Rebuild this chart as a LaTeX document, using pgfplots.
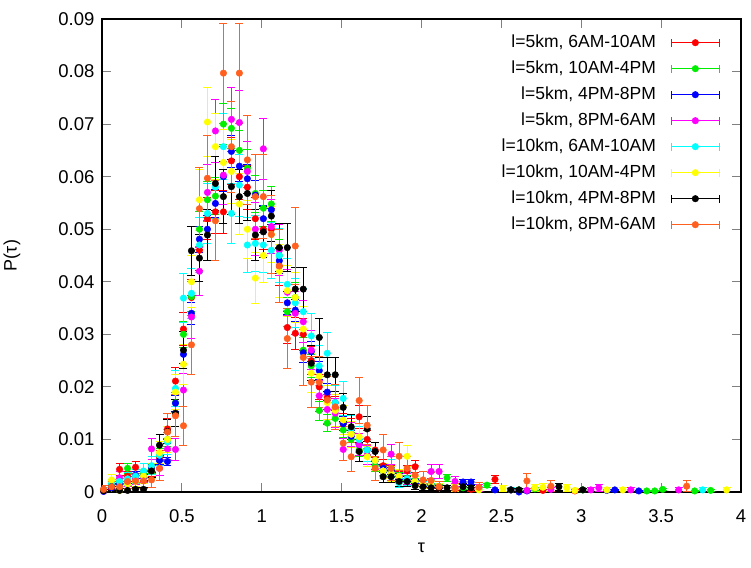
\documentclass[border=0pt]{standalone}
\usepackage{fontspec}
\setmainfont{Liberation Sans}
\usepackage{pgfplots}
\usepackage{pgfplotstable}
\pgfplotsset{compat=1.18}
\usetikzlibrary{calc,arrows.meta}

\definecolor{gpRed}{HTML}{FF0000}
\definecolor{gpGreen}{HTML}{00EE00}
\definecolor{gpBlue}{HTML}{0000FF}
\definecolor{gpMagenta}{HTML}{FF00FF}
\definecolor{gpCyan}{HTML}{00FFFF}
\definecolor{gpYellow}{HTML}{FFFF00}
\definecolor{gpBlack}{HTML}{000000}
\definecolor{gpOrange}{HTML}{FF5F1F}
\definecolor{tickGrey}{HTML}{808080}

% l=5km, 6AM-10AM
\pgfplotstableread{
x y e
0.01 0.0005 0.0004
0.06 0.0010 0.0006
0.11 0.0043 0.0012
0.16 0.0030 0.0010
0.21 0.0047 0.0012
0.26 0.0030 0.0010
0.31 0.0040 0.0011
0.36 0.0065 0.0015
0.41 0.0120 0.0020
0.46 0.0211 0.0026
0.51 0.0310 0.0032
0.56 0.0370 0.0035
0.61 0.0460 0.0039
0.66 0.0520 0.0041
0.71 0.0533 0.0042
0.76 0.0533 0.0042
0.81 0.0630 0.0045
0.86 0.0600 0.0044
0.91 0.0580 0.0043
0.96 0.0520 0.0041
1.01 0.0500 0.0040
1.06 0.0500 0.0040
1.11 0.0430 0.0037
1.16 0.0313 0.0032
1.21 0.0302 0.0031
1.26 0.0300 0.0031
1.31 0.0250 0.0028
1.36 0.0200 0.0025
1.41 0.0180 0.0024
1.46 0.0160 0.0023
1.51 0.0130 0.0021
1.56 0.0120 0.0020
1.61 0.0143 0.0022
1.66 0.0100 0.0018
1.71 0.0080 0.0016
1.76 0.0050 0.0013
1.81 0.0040 0.0011
1.86 0.0030 0.0010
1.91 0.0040 0.0011
1.96 0.0048 0.0012
2.01 0.0015 0.0007
2.06 0.0012 0.0006
2.11 0.0008 0.0005
2.21 0.0006 0.0004
2.31 0.0005 0.0004
2.46 0.0024 0.0009
2.56 0.0004 0.0004
2.76 0.0003 0.0003
2.96 0.0002 0.0003
}\tRed

% l=5km, 10AM-4PM
\pgfplotstableread{
x y e
0.01 0.0003 0.0003
0.06 0.0015 0.0006
0.11 0.0020 0.0007
0.16 0.0045 0.0010
0.21 0.0025 0.0008
0.26 0.0035 0.0009
0.31 0.0045 0.0010
0.36 0.0070 0.0013
0.41 0.0100 0.0015
0.46 0.0170 0.0020
0.51 0.0300 0.0026
0.56 0.0372 0.0029
0.61 0.0500 0.0034
0.66 0.0556 0.0035
0.71 0.0563 0.0036
0.76 0.0700 0.0040
0.81 0.0692 0.0039
0.86 0.0650 0.0038
0.91 0.0616 0.0037
0.96 0.0568 0.0036
1.01 0.0540 0.0035
1.06 0.0548 0.0035
1.11 0.0450 0.0032
1.16 0.0343 0.0028
1.21 0.0370 0.0029
1.26 0.0270 0.0025
1.31 0.0240 0.0023
1.36 0.0155 0.0019
1.41 0.0131 0.0017
1.46 0.0140 0.0018
1.51 0.0118 0.0016
1.56 0.0100 0.0015
1.61 0.0080 0.0013
1.66 0.0070 0.0013
1.71 0.0050 0.0011
1.76 0.0040 0.0009
1.81 0.0035 0.0009
1.86 0.0030 0.0008
1.91 0.0025 0.0008
1.96 0.0020 0.0007
2.01 0.0015 0.0006
2.06 0.0012 0.0005
2.11 0.0010 0.0005
2.16 0.0027 0.0008
2.26 0.0008 0.0004
2.41 0.0013 0.0005
2.61 0.0004 0.0003
2.71 0.0006 0.0004
3.01 0.0004 0.0003
3.41 0.0002 0.0002
3.46 0.0002 0.0002
3.51 0.0005 0.0003
3.71 0.0002 0.0002
3.81 0.0003 0.0003
}\tGreen

% l=5km, 4PM-8PM
\pgfplotstableread{
x y e
0.01 0.0001 0.0001
0.06 0.0008 0.0003
0.11 0.0015 0.0005
0.16 0.0020 0.0005
0.21 0.0032 0.0007
0.26 0.0028 0.0006
0.31 0.0045 0.0008
0.36 0.0060 0.0009
0.41 0.0058 0.0009
0.46 0.0169 0.0016
0.51 0.0262 0.0019
0.56 0.0340 0.0022
0.61 0.0481 0.0026
0.66 0.0500 0.0027
0.71 0.0549 0.0028
0.76 0.0600 0.0029
0.81 0.0648 0.0031
0.86 0.0620 0.0030
0.91 0.0596 0.0029
0.96 0.0565 0.0029
1.01 0.0520 0.0027
1.06 0.0537 0.0028
1.11 0.0440 0.0025
1.16 0.0360 0.0023
1.21 0.0346 0.0022
1.26 0.0265 0.0020
1.31 0.0267 0.0020
1.36 0.0231 0.0018
1.41 0.0190 0.0017
1.46 0.0170 0.0016
1.51 0.0130 0.0014
1.56 0.0106 0.0012
1.61 0.0090 0.0011
1.66 0.0080 0.0011
1.71 0.0060 0.0009
1.76 0.0045 0.0008
1.81 0.0040 0.0008
1.86 0.0030 0.0007
1.91 0.0025 0.0006
1.96 0.0020 0.0005
2.01 0.0015 0.0005
2.06 0.0012 0.0004
2.11 0.0010 0.0004
2.26 0.0019 0.0005
2.31 0.0019 0.0005
2.46 0.0004 0.0002
2.61 0.0000 0.0001
2.66 0.0002 0.0002
3.16 0.0003 0.0002
3.21 0.0004 0.0002
3.36 0.0002 0.0002
}\tBlue

% l=5km, 8PM-6AM
\pgfplotstableread{
x y e
0.01 0.0002 0.0003
0.06 0.0010 0.0007
0.11 0.0027 0.0012
0.16 0.0020 0.0010
0.21 0.0025 0.0012
0.26 0.0029 0.0012
0.31 0.0082 0.0021
0.36 0.0045 0.0015
0.41 0.0082 0.0021
0.46 0.0081 0.0021
0.51 0.0194 0.0032
0.56 0.0333 0.0042
0.61 0.0420 0.0047
0.66 0.0570 0.0055
0.71 0.0687 0.0060
0.76 0.0603 0.0056
0.81 0.0709 0.0061
0.86 0.0703 0.0061
0.91 0.0610 0.0057
0.96 0.0500 0.0051
1.01 0.0653 0.0059
1.06 0.0505 0.0052
1.11 0.0460 0.0049
1.16 0.0380 0.0045
1.21 0.0340 0.0042
1.26 0.0324 0.0041
1.31 0.0270 0.0038
1.36 0.0183 0.0031
1.41 0.0157 0.0029
1.46 0.0150 0.0028
1.51 0.0081 0.0021
1.56 0.0110 0.0024
1.61 0.0090 0.0022
1.66 0.0070 0.0019
1.71 0.0060 0.0018
1.76 0.0040 0.0015
1.81 0.0072 0.0020
1.86 0.0030 0.0013
1.91 0.0025 0.0012
1.96 0.0020 0.0010
2.01 0.0015 0.0009
2.06 0.0039 0.0014
2.11 0.0039 0.0014
2.21 0.0020 0.0010
2.36 0.0008 0.0007
2.56 0.0004 0.0005
2.66 0.0003 0.0004
2.81 0.0005 0.0005
3.06 0.0004 0.0005
3.11 0.0008 0.0007
3.31 0.0004 0.0005
3.61 0.0004 0.0005
}\tMagenta

% l=10km, 6AM-10AM
\pgfplotstableread{
x y e
0.01 0.0004 0.0005
0.06 0.0015 0.0010
0.11 0.0020 0.0011
0.16 0.0025 0.0013
0.21 0.0030 0.0014
0.26 0.0040 0.0016
0.31 0.0050 0.0018
0.36 0.0070 0.0021
0.41 0.0095 0.0024
0.46 0.0197 0.0035
0.51 0.0369 0.0048
0.56 0.0378 0.0049
0.61 0.0470 0.0054
0.66 0.0530 0.0058
0.71 0.0580 0.0060
0.76 0.0657 0.0064
0.81 0.0530 0.0058
0.86 0.0584 0.0060
0.91 0.0470 0.0054
0.96 0.0473 0.0054
1.01 0.0470 0.0054
1.06 0.0460 0.0054
1.11 0.0450 0.0053
1.16 0.0395 0.0050
1.21 0.0360 0.0047
1.26 0.0343 0.0046
1.31 0.0297 0.0043
1.36 0.0240 0.0039
1.41 0.0264 0.0041
1.46 0.0170 0.0033
1.51 0.0178 0.0033
1.56 0.0120 0.0027
1.61 0.0100 0.0025
1.66 0.0080 0.0022
1.71 0.0060 0.0019
1.76 0.0040 0.0016
1.81 0.0045 0.0017
1.86 0.0017 0.0010
1.91 0.0025 0.0013
1.96 0.0020 0.0011
2.01 0.0012 0.0009
2.06 0.0015 0.0010
2.11 0.0010 0.0008
2.21 0.0008 0.0007
2.36 0.0005 0.0006
2.56 0.0004 0.0005
3.76 0.0004 0.0005
}\tCyan

% l=10km, 10AM-4PM
\pgfplotstableread{
x y e
0.01 0.0003 0.0004
0.06 0.0023 0.0012
0.11 0.0003 0.0004
0.16 0.0015 0.0010
0.21 0.0020 0.0011
0.26 0.0030 0.0014
0.31 0.0040 0.0016
0.36 0.0075 0.0022
0.41 0.0100 0.0025
0.46 0.0190 0.0034
0.51 0.0243 0.0039
0.56 0.0400 0.0050
0.61 0.0556 0.0059
0.66 0.0704 0.0066
0.71 0.0657 0.0064
0.76 0.0627 0.0063
0.81 0.0610 0.0062
0.86 0.0548 0.0059
0.91 0.0500 0.0056
0.96 0.0407 0.0050
1.01 0.0450 0.0053
1.06 0.0490 0.0055
1.11 0.0420 0.0051
1.16 0.0383 0.0049
1.21 0.0370 0.0048
1.26 0.0310 0.0044
1.31 0.0226 0.0038
1.36 0.0220 0.0037
1.41 0.0170 0.0033
1.46 0.0155 0.0031
1.51 0.0137 0.0029
1.56 0.0110 0.0026
1.61 0.0105 0.0026
1.66 0.0067 0.0020
1.71 0.0060 0.0019
1.76 0.0040 0.0016
1.81 0.0035 0.0015
1.86 0.0030 0.0014
1.91 0.0068 0.0021
1.96 0.0020 0.0011
2.01 0.0015 0.0010
2.06 0.0012 0.0009
2.11 0.0010 0.0008
2.21 0.0008 0.0007
2.36 0.0004 0.0005
2.51 0.0007 0.0007
2.71 0.0008 0.0007
2.76 0.0009 0.0008
2.91 0.0008 0.0007
2.96 0.0003 0.0004
3.16 0.0004 0.0005
3.26 0.0004 0.0005
3.91 0.0004 0.0005
}\tYellow

% l=10km, 4PM-8PM
\pgfplotstableread{
x y e
0.01 0.0002 0.0003
0.06 0.0010 0.0007
0.11 0.0003 0.0004
0.16 0.0003 0.0004
0.21 0.0005 0.0005
0.26 0.0005 0.0005
0.31 0.0040 0.0014
0.36 0.0089 0.0021
0.41 0.0115 0.0024
0.46 0.0150 0.0027
0.51 0.0270 0.0036
0.56 0.0459 0.0047
0.61 0.0445 0.0046
0.66 0.0489 0.0049
0.71 0.0587 0.0053
0.76 0.0562 0.0052
0.81 0.0581 0.0053
0.86 0.0562 0.0052
0.91 0.0568 0.0052
0.96 0.0489 0.0049
1.01 0.0495 0.0049
1.06 0.0525 0.0050
1.11 0.0465 0.0047
1.16 0.0465 0.0047
1.21 0.0386 0.0043
1.26 0.0386 0.0043
1.31 0.0245 0.0034
1.36 0.0294 0.0038
1.41 0.0223 0.0033
1.46 0.0223 0.0033
1.51 0.0161 0.0028
1.56 0.0124 0.0025
1.61 0.0077 0.0019
1.66 0.0120 0.0024
1.71 0.0077 0.0019
1.76 0.0029 0.0012
1.81 0.0029 0.0012
1.86 0.0020 0.0010
1.91 0.0020 0.0010
1.96 0.0012 0.0008
2.01 0.0010 0.0007
2.06 0.0008 0.0006
2.11 0.0008 0.0006
2.16 0.0008 0.0006
2.26 0.0010 0.0007
2.31 0.0008 0.0006
2.56 0.0004 0.0004
2.61 0.0004 0.0004
2.86 0.0010 0.0007
3.01 0.0004 0.0004
}\tBlack

% l=10km, 8PM-6AM
\pgfplotstableread{
x y e
0.01 0.0005 0.0008
0.06 0.0010 0.0011
0.11 0.0010 0.0011
0.16 0.0020 0.0015
0.21 0.0021 0.0016
0.26 0.0021 0.0016
0.31 0.0023 0.0016
0.36 0.0045 0.0023
0.41 0.0114 0.0036
0.46 0.0145 0.0041
0.51 0.0126 0.0038
0.56 0.0280 0.0057
0.61 0.0539 0.0079
0.66 0.0597 0.0083
0.71 0.0516 0.0077
0.76 0.0797 0.0096
0.81 0.0657 0.0087
0.86 0.0797 0.0096
0.91 0.0632 0.0085
0.96 0.0562 0.0081
1.01 0.0562 0.0081
1.06 0.0490 0.0075
1.11 0.0430 0.0071
1.16 0.0292 0.0058
1.21 0.0468 0.0074
1.26 0.0256 0.0054
1.31 0.0209 0.0049
1.36 0.0209 0.0049
1.41 0.0175 0.0045
1.46 0.0162 0.0043
1.51 0.0093 0.0033
1.56 0.0067 0.0028
1.61 0.0174 0.0045
1.66 0.0127 0.0038
1.71 0.0045 0.0023
1.76 0.0080 0.0030
1.81 0.0045 0.0023
1.86 0.0068 0.0028
1.91 0.0045 0.0023
1.96 0.0032 0.0019
2.01 0.0023 0.0016
2.06 0.0022 0.0016
2.11 0.0010 0.0011
2.21 0.0008 0.0010
2.36 0.0009 0.0010
2.66 0.0021 0.0016
2.81 0.0011 0.0011
3.66 0.0011 0.0011
}\tOrange

\pgfplotsset{
  % error bar of each point: from y-e to y+e, with a cap at both ends
  gpbar/.style={
    draw=#1, mark=none, forget plot, line width=0.9pt,
    {Bar[width=8pt]}-{Bar[width=8pt]},
    quiver={u=0, v=2*\thisrow{e}},
  },
  gpdot/.style={
    color=#1, only marks, mark=*, mark size=3.3pt, mark options={solid},
  },
}

\begin{document}
\begin{tikzpicture}
\begin{axis}[
  scale only axis, width=639pt, height=473pt,
  xmin=0, xmax=4, ymin=0, ymax=0.09,
  scaled x ticks=false, scaled y ticks=false,
  xtick={0,0.5,1,1.5,2,2.5,3,3.5,4},
  xticklabels={0,0.5,1,1.5,2,2.5,3,3.5,4},
  ytick={0,0.01,0.02,0.03,0.04,0.05,0.06,0.07,0.08,0.09},
  yticklabels={0,0.01,0.02,0.03,0.04,0.05,0.06,0.07,0.08,0.09},
  tick align=inside, major tick length=9pt,
  major tick style={draw=tickGrey, line width=0.8pt},
  axis line style={black, line width=1.1pt},
  ticklabel style={font=\fontsize{18.5}{22}\selectfont},
  xticklabel style={yshift=-14pt},
  yticklabel style={xshift=-4pt},
  xlabel={τ}, ylabel={P(τ)},
  label style={font=\fontsize{18}{21}\selectfont},
  xlabel style={at={(axis description cs:0.5,-0.1184)}, anchor=center},
  ylabel style={at={(axis description cs:-0.1408,0.5)}, anchor=center},
  legend plot pos=right, legend cell align=right,
  legend style={draw=none, fill=none, at={(rel axis cs:1,1)}, anchor=north east,
    xshift=-18pt, yshift=-12pt, row sep=7pt, column sep=14pt,
    font=\fontsize{17.5}{20}\selectfont,
    nodes={inner sep=1pt, text height=13pt, text depth=4pt}},
  legend image code/.code={
    \draw[#1, mark=none, solid, line width=0.9pt] (0pt,0pt) -- (48pt,0pt)
      (0pt,-4pt) -- (0pt,4pt) (48pt,-4pt) -- (48pt,4pt);
    \fill[#1] (24pt,0pt) circle (3.3pt);
  },
]
\addplot[gpbar=gpRed] table[x=x, y expr=\thisrow{y}-\thisrow{e}] {\tRed};
\addplot[gpdot=gpRed] table[x=x, y=y] {\tRed};
\addlegendentry{l=5km, 6AM-10AM}
\addplot[gpbar=gpGreen] table[x=x, y expr=\thisrow{y}-\thisrow{e}] {\tGreen};
\addplot[gpdot=gpGreen] table[x=x, y=y] {\tGreen};
\addlegendentry{l=5km, 10AM-4PM}
\addplot[gpbar=gpBlue] table[x=x, y expr=\thisrow{y}-\thisrow{e}] {\tBlue};
\addplot[gpdot=gpBlue] table[x=x, y=y] {\tBlue};
\addlegendentry{l=5km, 4PM-8PM}
\addplot[gpbar=gpMagenta] table[x=x, y expr=\thisrow{y}-\thisrow{e}] {\tMagenta};
\addplot[gpdot=gpMagenta] table[x=x, y=y] {\tMagenta};
\addlegendentry{l=5km, 8PM-6AM}
\addplot[gpbar=gpCyan] table[x=x, y expr=\thisrow{y}-\thisrow{e}] {\tCyan};
\addplot[gpdot=gpCyan] table[x=x, y=y] {\tCyan};
\addlegendentry{l=10km, 6AM-10AM}
\addplot[gpbar=gpYellow] table[x=x, y expr=\thisrow{y}-\thisrow{e}] {\tYellow};
\addplot[gpdot=gpYellow] table[x=x, y=y] {\tYellow};
\addlegendentry{l=10km, 10AM-4PM}
\addplot[gpbar=gpBlack] table[x=x, y expr=\thisrow{y}-\thisrow{e}] {\tBlack};
\addplot[gpdot=gpBlack] table[x=x, y=y] {\tBlack};
\addlegendentry{l=10km, 4PM-8PM}
\addplot[gpbar=gpOrange] table[x=x, y expr=\thisrow{y}-\thisrow{e}] {\tOrange};
\addplot[gpdot=gpOrange] table[x=x, y=y] {\tOrange};
\addlegendentry{l=10km, 8PM-6AM}
\end{axis}
\pgfresetboundingbox
\path ($(current axis.south west)+(-102pt,-76pt)$) rectangle ($(current axis.north east)+(10pt,19pt)$);
\end{tikzpicture}
\end{document}
